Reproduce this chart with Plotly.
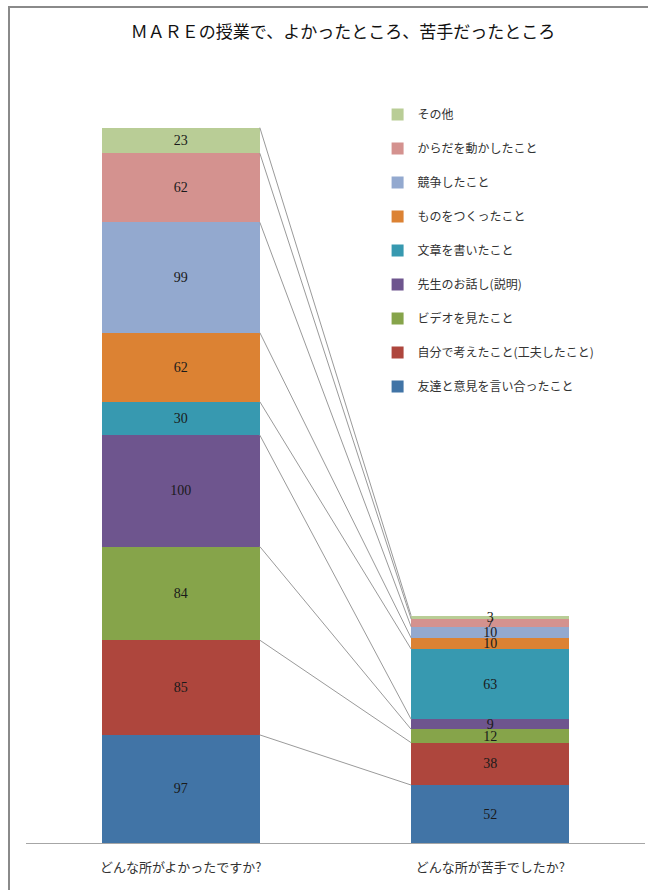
import plotly.graph_objects as go
import numpy as np

categories = ["どんな所がよかったですか?", "どんな所が苦手でしたか?"]
series_names = [
    "友達と意見を言い合ったこと",
    "自分で考えたこと(工夫したこと)",
    "ビデオを見たこと",
    "先生のお話し(説明)",
    "文章を書いたこと",
    "ものをつくったこと",
    "競争したこと",
    "からだを動かしたこと",
    "その他",
]
good_values = [97, 85, 84, 100, 30, 62, 99, 62, 23]
bad_values = [52, 38, 12, 9, 63, 10, 10, 7, 3]
colors = ["#4174A6", "#AE463D", "#86A44A", "#6E558E", "#3799B0",
          "#DC8233", "#93A9CF", "#D4928F", "#B9CD96"]

BAR_W = 0.511
xpos = [0, 1]

fig = go.Figure()
n = len(series_names)
for i, name in enumerate(series_names):
    vals = [good_values[i], bad_values[i]]
    fig.add_trace(go.Bar(
        x=xpos, y=vals, name=name, width=BAR_W,
        marker=dict(color=colors[i], line=dict(width=0)),
        text=[str(v) for v in vals],
        textposition="inside", insidetextanchor="middle",
        constraintext="none", textangle=0,
        textfont=dict(family="Liberation Serif, Noto Sans CJK JP", size=14, color="#1a1a1a"),
        legendgroup=name, legendrank=n - i,
        hoverinfo="skip",
    ))

# series lines connecting stacked segment tops
cum_good = np.cumsum(good_values)
cum_bad = np.cumsum(bad_values)
for i in range(n):
    fig.add_trace(go.Scatter(
        x=[xpos[0] + BAR_W / 2, xpos[1] - BAR_W / 2],
        y=[cum_good[i], cum_bad[i]],
        mode="lines", line=dict(color="#9A9A9A", width=1),
        showlegend=False, hoverinfo="skip",
    ))

fig.update_layout(
    barmode="stack",
    width=648, height=890,
    margin=dict(l=26, r=3, t=63, b=47),
    paper_bgcolor="white", plot_bgcolor="white",
    title=dict(text="ＭＡＲＥの授業で、よかったところ、苦手だったところ",
               x=343 / 648, xanchor="center", y=1 - 32 / 890, yanchor="middle",
               font=dict(family="Noto Sans CJK JP", size=17, color="#111")),
    showlegend=True,
    legend=dict(
        x=0.568, xanchor="left", y=(843 - 100) / 780, yanchor="top",
        traceorder="grouped", tracegroupgap=15,
        font=dict(family="Noto Sans CJK JP", size=12, color="#333"),
        bgcolor="rgba(0,0,0,0)",
    ),
    xaxis=dict(
        range=[-0.5, 1.5], tickvals=xpos, ticktext=categories,
        showline=True, linecolor="#A6A6A6", linewidth=1,
        showgrid=False, zeroline=False, ticks="",
        ticklabelstandoff=12,
        tickfont=dict(family="Noto Sans CJK JP", size=13, color="#333"),
        fixedrange=True,
    ),
    yaxis=dict(range=[0, 700], visible=False, showgrid=False, zeroline=False),
    shapes=[dict(type="rect", xref="paper", yref="paper",
                 x0=(9 - 26) / 619, x1=1.05, y0=-0.2, y1=(843 - 7) / 780,
                 line=dict(color="#8A8A8A", width=2), fillcolor="rgba(0,0,0,0)",
                 layer="below")],
)

fig.write_html("out.html")
